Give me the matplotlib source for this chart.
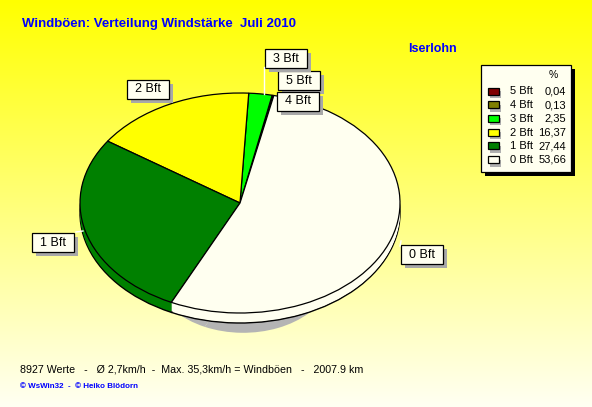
import numpy as np
import matplotlib
matplotlib.use('Agg')
import matplotlib.pyplot as plt
from matplotlib.patches import Rectangle

# ---------------- data ----------------
categories = ['5 Bft', '4 Bft', '3 Bft', '2 Bft', '1 Bft', '0 Bft']
percent = [0.04, 0.13, 2.35, 16.37, 27.44, 53.66]
percent_labels = ['0,04', '0,13', '2,35', '16,37', '27,44', '53,66']
colors = ['#800000', '#808000', '#00FF00', '#FFFF00', '#008000', '#FFFFF0']
title = 'Windböen: Verteilung Windstärke  Juli 2010'
station = 'Iserlohn'
footer = '8927 Werte   -   Ø 2,7km/h  -  Max. 35,3km/h = Windböen   -   2007.9 km'
credit = '© WsWin32  -  © Heiko Blödorn'

# label box centres (pixel layout)
label_xy = [(299, 80), (298, 101), (285.5, 58), (148, 89), (53, 242), (422, 254)]

W, H = 592, 407
FONT = 'Liberation Sans'
fig = plt.figure(figsize=(W / 100, H / 100), dpi=100)

# background gradient
bg = fig.add_axes([0, 0, 1, 1], zorder=0)
bg.axis('off')
img = np.ones((256, 1, 3))
img[:, 0, 2] = np.linspace(0.0, 0.95, 256)
bg.imshow(img, aspect='auto', extent=[0, 1, 0, 1], origin='upper')
bg.set_xlim(0, 1); bg.set_ylim(0, 1)

# pie axes (elliptic mapping)
cx, cy, rx, ry = 240, 203, 160, 110
ax = fig.add_axes([0, 0, 1, 1], zorder=1)
start = 77.8
depth = 10 / ry

# shadow
ax.pie(percent, colors=['#B4B4B4'] * len(percent), startangle=start,
       center=(0.02, -0.62), radius=0.56, wedgeprops=dict(linewidth=0))
# bottom of the cylinder
ax.pie(percent, colors=colors, startangle=start, center=(0, -depth),
       wedgeprops=dict(edgecolor='black', linewidth=1.0))
for d in np.linspace(depth - 1.2 / ry, 0, 10):
    ax.pie(percent, colors=colors, startangle=start, center=(0, -d),
           wedgeprops=dict(linewidth=0))
ax.pie(percent, colors=colors, startangle=start, center=(0, 0),
       wedgeprops=dict(edgecolor='black', linewidth=0.9))
ax.set_aspect('auto')
ax.set_xlim(-cx / rx, (W - cx) / rx)
ax.set_ylim(-(H - cy) / ry, cy / ry)
ax.axis('off')

# overlay in pixel coords
ov = fig.add_axes([0, 0, 1, 1], zorder=2)
ov.set_xlim(0, W); ov.set_ylim(H, 0)
ov.axis('off')
ov.patch.set_alpha(0)

# leader lines
ov.plot([264, 264], [67, 94], color='white', lw=1)
ov.plot([76, 83], [232, 231], color='white', lw=1)
ov.plot([400, 401], [246, 241], color='white', lw=1)

# label boxes
bw, bh = 42, 19
for cat, (x, y) in zip(categories, label_xy):
    ov.add_patch(Rectangle((x - bw / 2 + 4, y - bh / 2 + 4), bw, bh,
                           fc='#A8A8A8', ec='none'))
    ov.add_patch(Rectangle((x - bw / 2, y - bh / 2), bw, bh,
                           fc='#FFFFF0', ec='black', lw=0.9))
    ov.text(x, y + 0.5, cat, ha='center', va='center', fontsize=9,
            family=FONT, color='black')

# legend
lx0, ly0, lx1, ly1 = 481, 65, 571, 172
ov.add_patch(Rectangle((lx0 + 4, ly0 + 4), lx1 - lx0, ly1 - ly0, fc='black', ec='none'))
ov.add_patch(Rectangle((lx0, ly0), lx1 - lx0, ly1 - ly0, fc='#FFFFF0', ec='black', lw=0.9))
ov.text(553, 75.5, '%', ha='center', va='center', fontsize=7.5, family=FONT)
for i, (cat, col, lab) in enumerate(zip(categories, colors, percent_labels)):
    y = 91 + i * 13.7
    ov.add_patch(Rectangle((490, y - 3 + 3), 11, 7, fc='#B0B0B0', ec='none'))
    ov.add_patch(Rectangle((487.5, y - 3.5), 11, 7, fc=col, ec='black', lw=0.9))
    ov.text(510, y + 0.5, cat, ha='left', va='center', fontsize=8, family=FONT)
    ov.text(566, y + 0.5, lab, ha='right', va='center', fontsize=8, family=FONT)

# texts
ov.text(22, 24.5, title, ha='left', va='center', fontsize=9.55, fontweight='bold',
        color='#0000FF', family=FONT)
ov.text(408, 49, station, ha='left', va='center', fontsize=9, fontweight='bold',
        color='#0000FF', family=FONT)
ov.text(20, 369, footer, ha='left', va='center', fontsize=7.7, color='black', family=FONT)
ov.text(20, 386, credit, ha='left', va='center', fontsize=5.8, fontweight='bold',
        color='#0000FF', family=FONT)

fig.savefig('out.png', dpi=100)
